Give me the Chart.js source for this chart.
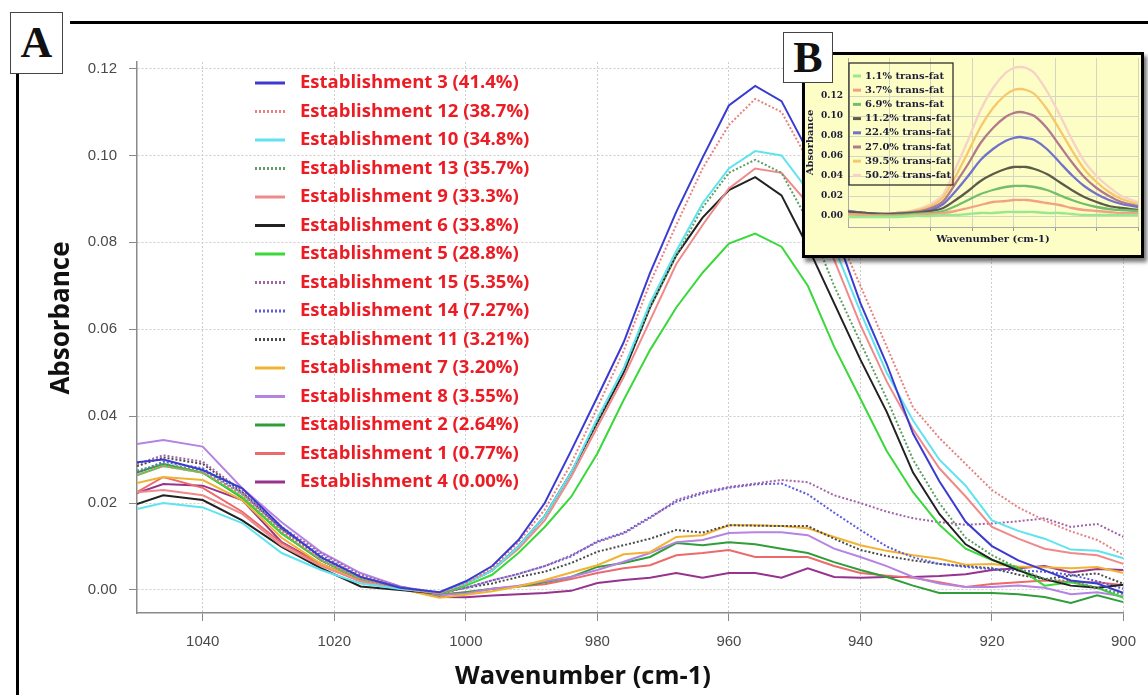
<!DOCTYPE html>
<html lang="en">
<head>
<meta charset="UTF-8">
<title>Absorbance spectra - establishments</title>
<script src="https://cdn.jsdelivr.net/npm/chart.js"></script>
<style>
  body { margin: 0; background: #fff; }
  .figure { position: relative; width: 1148px; height: 695px; overflow: hidden; background: #fff; }
  #mainChart { position: absolute; left: 0; top: 0; }
  .panel-label {
    position: absolute; background: #fff; border: 1.5px solid #444;
    font-family: "Liberation Serif", serif; font-weight: bold; font-size: 44px;
    line-height: 1; display: flex; align-items: center; justify-content: center; color: #111;
  }
  .label-a { left: 10px; top: 12px; width: 51px; height: 60px; }
  .label-b { left: 783px; top: 32px; width: 48px; height: 49px; z-index: 3; }
  .rule-top { position: absolute; left: 70px; top: 21px; width: 1078px; height: 3px; background: #000; }
  .rule-left { position: absolute; left: 16px; top: 64px; width: 3px; height: 631px; background: #000; }
  .inset {
    position: absolute; left: 802px; top: 52px; width: 336px; height: 200px;
    border: 3px solid #000; background: #fdfdc6; box-shadow: 3px 4px 4px rgba(0,0,0,0.55); z-index: 2;
  }
  #insetChart { position: absolute; left: 0; top: 0; }
</style>
</head>
<body>
<div class="figure">
  <canvas id="mainChart" width="1148" height="695"></canvas>
  <div class="rule-top"></div>
  <div class="rule-left"></div>
  <div class="panel-label label-a">A</div>
  <div class="inset"><canvas id="insetChart" width="336" height="200"></canvas></div>
  <div class="panel-label label-b">B</div>
</div>
<script>
// ---- panel A data ----
const wavenumbers = [1050, 1046, 1040, 1034, 1028, 1022, 1016, 1010, 1004, 1000, 996, 992, 988, 984, 980, 976, 972, 968, 964, 960,
                     956, 952, 948, 944, 940, 936, 932, 928, 924, 920, 916, 912, 908, 904, 900];
const wavenumberTicks = [1040, 1020, 1000, 980, 960, 940, 920, 900];
const absorbanceTicks = [0, 0.02, 0.04, 0.06, 0.08, 0.10, 0.12];

const est3  = [0.0294, 0.030, 0.0276, 0.0234, 0.0145, 0.0075, 0.003, 0.0005, -0.0005, 0.002, 0.0055, 0.0115, 0.020, 0.032, 0.0444, 0.057, 0.0729, 0.087, 0.0995, 0.1115,
               0.116, 0.1125, 0.101, 0.083, 0.066, 0.052, 0.036, 0.025, 0.0157, 0.0101, 0.0068, 0.0045, 0.0022, 0.0015, -0.0007];
const est12 = [0.0265, 0.0285, 0.027, 0.022, 0.0135, 0.007, 0.0025, 0.0005, -0.0008, 0.0015, 0.005, 0.011, 0.0185, 0.029, 0.042, 0.055, 0.0706, 0.084, 0.097, 0.107,
               0.113, 0.110, 0.099, 0.084, 0.070, 0.056, 0.042, 0.035, 0.029, 0.023, 0.019, 0.016, 0.0135, 0.0115, 0.008];
const est10 = [0.0186, 0.020, 0.019, 0.0154, 0.0085, 0.0046, 0.0015, 0.0002, -0.0005, 0.0015, 0.0045, 0.010, 0.017, 0.027, 0.0395, 0.051, 0.066, 0.078, 0.089, 0.097,
               0.101, 0.100, 0.092, 0.079, 0.064, 0.050, 0.039, 0.030, 0.024, 0.016, 0.0136, 0.0118, 0.0093, 0.009, 0.0073];
const est13 = [0.0275, 0.029, 0.0275, 0.022, 0.0135, 0.0068, 0.0025, 0.0005, -0.0008, 0.0015, 0.0045, 0.010, 0.017, 0.027, 0.039, 0.051, 0.065, 0.077, 0.088, 0.096,
               0.099, 0.096, 0.085, 0.070, 0.057, 0.044, 0.030, 0.020, 0.012, 0.008, 0.005, 0.0025, 0.002, 0.0005, -0.001];
const est9  = [0.0225, 0.023, 0.0218, 0.0175, 0.0102, 0.0055, 0.002, 0.0003, -0.0008, 0.0015, 0.0045, 0.0095, 0.016, 0.026, 0.0375, 0.049, 0.062, 0.075, 0.084, 0.0924,
               0.097, 0.096, 0.089, 0.076, 0.061, 0.048, 0.037, 0.028, 0.0215, 0.0145, 0.0118, 0.0095, 0.0085, 0.008, 0.006];
const est6  = [0.0198, 0.0218, 0.0207, 0.016, 0.0099, 0.005, 0.0008, 0.0000, -0.0008, 0.0015, 0.0045, 0.010, 0.017, 0.027, 0.0386, 0.050, 0.065, 0.077, 0.0857, 0.092,
               0.095, 0.0908, 0.079, 0.066, 0.053, 0.041, 0.027, 0.0175, 0.0105, 0.007, 0.0045, 0.0025, 0.001, 0.0005, 0.0012];
const est5  = [0.0264, 0.0285, 0.027, 0.0214, 0.013, 0.0068, 0.0025, 0.0005, -0.001, 0.001, 0.0035, 0.0085, 0.0145, 0.0214, 0.0314, 0.0437, 0.0552, 0.065, 0.073, 0.0797,
               0.082, 0.079, 0.070, 0.056, 0.044, 0.032, 0.0225, 0.015, 0.0095, 0.0069, 0.005, 0.001, 0.0018, 0.0005, -0.0018];
const est15 = [0.029, 0.031, 0.0295, 0.0228, 0.0145, 0.0085, 0.0035, 0.0008, -0.0008, 0.0005, 0.0022, 0.0037, 0.0055, 0.008, 0.011, 0.013, 0.0165, 0.0207, 0.0225, 0.0237,
               0.0245, 0.0253, 0.0248, 0.0218, 0.020, 0.018, 0.0165, 0.0156, 0.015, 0.0153, 0.0158, 0.0165, 0.0145, 0.0152, 0.0122];
const est14 = [0.027, 0.0295, 0.028, 0.0222, 0.014, 0.008, 0.003, 0.0007, -0.0006, 0.0005, 0.0022, 0.0037, 0.0055, 0.0077, 0.0112, 0.0132, 0.0168, 0.0203, 0.0222, 0.0235,
               0.0243, 0.0245, 0.022, 0.0178, 0.0138, 0.010, 0.0075, 0.006, 0.0053, 0.0048, 0.0045, 0.0042, 0.0035, 0.002, 0.0003];
const est11 = [0.0285, 0.0305, 0.029, 0.0225, 0.014, 0.0075, 0.003, 0.0006, -0.0008, 0.0005, 0.0015, 0.003, 0.0042, 0.0062, 0.0088, 0.0103, 0.0118, 0.0138, 0.0132, 0.0149,
               0.0148, 0.0147, 0.0147, 0.0118, 0.0092, 0.0078, 0.0068, 0.006, 0.0055, 0.005, 0.0035, 0.0025, 0.0033, 0.0038, 0.0014];
const est7  = [0.0246, 0.026, 0.0253, 0.0207, 0.012, 0.006, 0.002, 0.0003, -0.0018, -0.0011, -0.0003, 0.0008, 0.0023, 0.004, 0.0057, 0.0082, 0.0087, 0.0122, 0.0126, 0.0149,
               0.0149, 0.0147, 0.0142, 0.0122, 0.0103, 0.009, 0.008, 0.0072, 0.0058, 0.006, 0.0054, 0.0052, 0.005, 0.0053, 0.0039];
const est8  = [0.0336, 0.0345, 0.033, 0.0234, 0.0156, 0.0087, 0.0039, 0.0008, -0.0012, -0.0008, 0.0003, 0.001, 0.002, 0.003, 0.0046, 0.0065, 0.0085, 0.011, 0.0115, 0.0131,
               0.0133, 0.0133, 0.0126, 0.0095, 0.0076, 0.0055, 0.003, 0.0015, 0.0007, 0.0007, 0.001, 0.0005, -0.001, -0.0005, -0.0015];
const est2  = [0.027, 0.029, 0.027, 0.0212, 0.013, 0.0068, 0.0025, 0.0004, -0.0012, -0.0005, 0.0003, 0.0008, 0.0018, 0.003, 0.0053, 0.0062, 0.0076, 0.0108, 0.0103, 0.011,
               0.0105, 0.0095, 0.0085, 0.0064, 0.0046, 0.003, 0.001, -0.0007, -0.0007, -0.0007, -0.001, -0.0016, -0.003, -0.0012, -0.0028];
const est1  = [0.0225, 0.026, 0.0235, 0.018, 0.0108, 0.0058, 0.002, 0.0002, -0.001, -0.0005, 0.0002, 0.0008, 0.0013, 0.0025, 0.0039, 0.005, 0.0057, 0.008, 0.0085, 0.0092,
               0.0076, 0.0076, 0.0076, 0.0055, 0.0039, 0.0033, 0.0028, 0.0018, 0.0007, 0.0014, 0.0018, 0.0022, 0.0018, 0.0018, 0.0011];
const est4  = [0.0223, 0.0244, 0.024, 0.0207, 0.011, 0.006, 0.0022, 0.0003, -0.0016, -0.0017, -0.0013, -0.001, -0.0007, -0.0002, 0.0016, 0.0023, 0.0028, 0.0039, 0.0028, 0.0039,
               0.0039, 0.0028, 0.005, 0.003, 0.0028, 0.003, 0.003, 0.0032, 0.0036, 0.0046, 0.005, 0.0055, 0.004, 0.0048, 0.0046];

const seriesLabels = ['Establishment 3 (41.4%)', 'Establishment 12 (38.7%)', 'Establishment 10 (34.8%)', 'Establishment 13 (35.7%)',
  'Establishment 9 (33.3%)', 'Establishment 6 (33.8%)', 'Establishment 5 (28.8%)', 'Establishment 15 (5.35%)', 'Establishment 14 (7.27%)',
  'Establishment 11 (3.21%)', 'Establishment 7 (3.20%)', 'Establishment 8 (3.55%)', 'Establishment 2 (2.64%)', 'Establishment 1 (0.77%)',
  'Establishment 4 (0.00%)'];
const seriesValues = [est3, est12, est10, est13, est9, est6, est5, est15, est14, est11, est7, est8, est2, est1, est4];

// styles
const seriesColors = ['#3b3bd2', '#e98080', '#5fe3ef', '#5f9d62', '#f08a8a', '#222222', '#3ad83a', '#a463a8', '#5b5be0',
  '#4a4a4a', '#f2b232', '#b583e2', '#2f9e38', '#ec6a6a', '#96338e'];
const dottedSeries = [false, true, false, true, false, false, false, true, true, true, false, false, false, false, false];

// ---- panel B data ----
const insetWavenumbers = [1040, 1032, 1024, 1016, 1008, 1000, 994, 988, 982, 976, 970, 964, 960, 957, 954, 950, 944, 938, 932, 926, 920, 914, 908, 900];
const insetGrid = [1020, 1000, 980, 960, 940, 920, 900];
const insetTicks = [0, 0.02, 0.04, 0.06, 0.08, 0.10, 0.12];
const fat1_1  = [-0.001, -0.001, -0.001, -0.001, 0.000, 0.000, 0.001, 0.001, 0.002, 0.003, 0.003, 0.004, 0.004, 0.004, 0.004, 0.004, 0.003, 0.003, 0.002, 0.001, 0.001, 0.001, 0.001, 0.001];
const fat3_7  = [0.002, 0.001, 0.000, 0.000, 0.001, 0.002, 0.003, 0.005, 0.008, 0.011, 0.014, 0.015, 0.016, 0.016, 0.016, 0.015, 0.013, 0.011, 0.008, 0.006, 0.005, 0.004, 0.003, 0.003];
const fat6_9  = [0.002, 0.001, 0.001, 0.001, 0.002, 0.003, 0.005, 0.010, 0.016, 0.022, 0.026, 0.029, 0.030, 0.030, 0.030, 0.029, 0.026, 0.021, 0.016, 0.012, 0.009, 0.007, 0.006, 0.005];
const fat11_2 = [0.004, 0.003, 0.002, 0.002, 0.003, 0.005, 0.008, 0.016, 0.025, 0.035, 0.042, 0.047, 0.049, 0.049, 0.049, 0.047, 0.042, 0.034, 0.026, 0.019, 0.014, 0.010, 0.008, 0.006];
const fat22_4 = [0.005, 0.003, 0.002, 0.002, 0.003, 0.006, 0.012, 0.025, 0.040, 0.056, 0.067, 0.075, 0.078, 0.079, 0.078, 0.076, 0.067, 0.054, 0.041, 0.030, 0.022, 0.016, 0.012, 0.009];
const fat27_0 = [0.005, 0.003, 0.002, 0.003, 0.004, 0.008, 0.015, 0.033, 0.052, 0.073, 0.088, 0.099, 0.103, 0.104, 0.103, 0.100, 0.088, 0.071, 0.054, 0.039, 0.028, 0.020, 0.014, 0.010];
const fat39_5 = [0.004, 0.003, 0.002, 0.003, 0.005, 0.010, 0.019, 0.040, 0.064, 0.089, 0.108, 0.121, 0.126, 0.127, 0.126, 0.122, 0.107, 0.087, 0.066, 0.047, 0.034, 0.024, 0.017, 0.012];
const fat50_2 = [0.004, 0.003, 0.002, 0.003, 0.006, 0.012, 0.022, 0.048, 0.076, 0.106, 0.128, 0.143, 0.148, 0.149, 0.148, 0.143, 0.125, 0.102, 0.077, 0.055, 0.040, 0.029, 0.020, 0.014];
const insetLabels = ['1.1% trans-fat', '3.7% trans-fat', '6.9% trans-fat', '11.2% trans-fat', '22.4% trans-fat', '27.0% trans-fat', '39.5% trans-fat', '50.2% trans-fat'];
const insetValues = [fat1_1, fat3_7, fat6_9, fat11_2, fat22_4, fat27_0, fat39_5, fat50_2];
const insetColors = ['#9ae88e', '#f0a283', '#74bd6c', '#5b5b4a', '#7272cc', '#b27a8a', '#f7c76c', '#f6d3c6'];

function toPoints(xs, ys) {
  return xs.map((x, i) => ({ x: x, y: ys[i] }));
}

// legend drawn inside the plot area, one row per dataset
const innerLegend = {
  id: 'innerLegend',
  afterDatasetsDraw(chart, args, opts) {
    const ctx = chart.ctx;
    ctx.save();
    if (opts.box) {
      ctx.strokeStyle = opts.box.color;
      ctx.lineWidth = opts.box.width;
      ctx.strokeRect(opts.box.x, opts.box.y, opts.box.w, opts.box.h);
    }
    ctx.font = opts.font;
    ctx.textBaseline = 'middle';
    chart.data.datasets.forEach((ds, i) => {
      const y = opts.top + i * opts.rowHeight;
      ctx.strokeStyle = ds.borderColor;
      ctx.lineWidth = opts.lineWidth;
      ctx.setLineDash(ds.borderDash || []);
      ctx.beginPath();
      ctx.moveTo(opts.left, y);
      ctx.lineTo(opts.left + opts.lineLength, y);
      ctx.stroke();
      ctx.setLineDash([]);
      ctx.fillStyle = opts.color;
      ctx.fillText(ds.label, opts.left + opts.lineLength + opts.gap, y);
    });
    ctx.restore();
  }
};

// axis captions of panel A sit off-centre in the original, so they are placed by hand
const axisCaptions = {
  id: 'axisCaptions',
  afterDraw(chart, args, opts) {
    const ctx = chart.ctx;
    ctx.save();
    ctx.fillStyle = opts.color;
    ctx.textAlign = 'center';
    ctx.textBaseline = 'middle';
    ctx.font = opts.xFont;
    ctx.fillText(opts.xText, opts.xAt[0], opts.xAt[1]);
    ctx.translate(opts.yAt[0], opts.yAt[1]);
    ctx.rotate(-Math.PI / 2);
    ctx.font = opts.yFont;
    ctx.fillText(opts.yText, 0, 0);
    ctx.restore();
  }
};

const tickFont = { family: 'Liberation Sans', size: 15 };

new Chart(document.getElementById('mainChart'), {
  type: 'line',
  data: {
    datasets: seriesValues.map((vals, i) => ({
      label: seriesLabels[i],
      data: toPoints(wavenumbers, vals),
      borderColor: seriesColors[i],
      borderWidth: 2,
      borderDash: dottedSeries[i] ? [2, 2] : [],
      pointRadius: 0,
      tension: 0,
      fill: false
    }))
  },
  options: {
    responsive: false,
    animation: false,
    devicePixelRatio: 1,
    layout: { padding: { left: 0, top: 62, right: 24, bottom: 0 } },
    plugins: {
      legend: { display: false },
      tooltip: { enabled: false },
      innerLegend: {
        left: 255, top: 83, rowHeight: 28.5, lineLength: 30, gap: 15, lineWidth: 3,
        font: 'bold 18.5px "Open Sans"', color: '#ec1c24'
      },
      axisCaptions: {
        color: '#111',
        xText: 'Wavenumber (cm-1)', xFont: 'bold 25.5px "Open Sans"', xAt: [583, 677],
        yText: 'Absorbance', yFont: 'bold 26px "Open Sans"', yAt: [62, 318]
      }
    },
    scales: {
      x: {
        type: 'linear', reverse: true, min: 900, max: 1050,
        afterBuildTicks: s => { s.ticks = wavenumberTicks.map(v => ({ value: v })); },
        afterFit: s => { s.height = 82; },
        ticks: { callback: v => String(v), color: '#4a4a4a', font: tickFont, padding: 12, autoSkip: false, maxRotation: 0 },
        grid: { color: '#cdcdcd', lineWidth: 1, tickLength: 8, tickColor: '#888' },
        border: { color: '#8a8a8a', width: 1.5, dash: [2, 2] }
      },
      y: {
        min: -0.0053, max: 0.1215,
        afterBuildTicks: s => { s.ticks = absorbanceTicks.map(v => ({ value: v })); },
        afterFit: s => { s.width = 137; },
        ticks: { callback: v => v.toFixed(2), color: '#4a4a4a', font: tickFont, padding: 12, autoSkip: false },
        grid: { color: '#cdcdcd', lineWidth: 1, tickLength: 8, tickColor: '#888' },
        border: { color: '#8a8a8a', width: 1.5, dash: [2, 2] }
      }
    }
  },
  plugins: [innerLegend, axisCaptions]
});

const insetFont = { family: 'DejaVu Serif', size: 9, weight: 'bold' };

new Chart(document.getElementById('insetChart'), {
  type: 'line',
  data: {
    datasets: insetValues.map((vals, i) => ({
      label: insetLabels[i],
      data: toPoints(insetWavenumbers, vals),
      borderColor: insetColors[i],
      borderWidth: 2.3,
      pointRadius: 0,
      tension: 0.3,
      fill: false
    }))
  },
  options: {
    responsive: false,
    animation: false,
    devicePixelRatio: 1,
    layout: { padding: { left: 0, top: 3, right: 3, bottom: 0 } },
    plugins: {
      legend: { display: false },
      tooltip: { enabled: false },
      innerLegend: {
        left: 48, top: 21, rowHeight: 14.2, lineLength: 8, gap: 4, lineWidth: 3,
        font: 'bold 10px "DejaVu Serif"', color: '#1d1d3a',
        box: { x: 44, y: 8, w: 104, h: 122, color: '#222', width: 1.2 }
      }
    },
    scales: {
      x: {
        type: 'linear', reverse: true, min: 900, max: 1040,
        afterBuildTicks: s => { s.ticks = insetGrid.map(v => ({ value: v })); },
        afterFit: s => { s.height = 28; s.paddingLeft = 0; s.paddingRight = 0; },
        ticks: { display: false },
        grid: { color: '#d3d6c0', lineWidth: 1, tickLength: 4, tickColor: '#999' },
        border: { color: '#aaa', width: 1 },
        title: { display: true, text: 'Wavenumber (cm-1)', font: { family: 'DejaVu Serif', size: 10, weight: 'bold', lineHeight: 1.2 }, color: '#1d1d3a', padding: { top: 0, bottom: 10 } }
      },
      y: {
        min: -0.011, max: 0.158,
        afterBuildTicks: s => { s.ticks = insetTicks.map(v => ({ value: v })); },
        afterFit: s => { s.width = 43; s.paddingTop = 0; s.paddingBottom = 0; },
        ticks: { callback: v => v.toFixed(2), color: '#1d1d3a', font: insetFont, padding: 5, autoSkip: false },
        grid: { color: '#d3d6c0', lineWidth: 1, drawTicks: false },
        border: { color: '#aaa', width: 1 },
        title: { display: true, text: 'Absorbance', font: { family: 'DejaVu Serif', size: 10, weight: 'bold', lineHeight: 1 }, color: '#1d1d3a', padding: { top: 0, bottom: 0 } }
      }
    }
  },
  plugins: [innerLegend]
});
</script>
</body>
</html>
